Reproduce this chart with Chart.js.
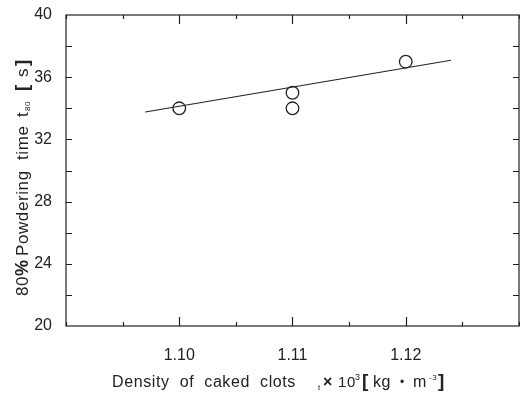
<!DOCTYPE html>
<html>
<head>
<meta charset="utf-8">
<script src="https://cdn.jsdelivr.net/npm/chart.js@4.4.0/dist/chart.umd.min.js"></script>
<style>
  html, body { margin: 0; padding: 0; background: #fff; overflow: hidden; }
  #wrap { width: 520px; height: 395px; position: relative; }
</style>
</head>
<body>
<div id="wrap"><canvas id="chart"></canvas></div>
<script>
// measured points
const densityX = [1.10, 1.11, 1.11, 1.12];
const powderTime = [34, 35, 34, 37];

// fitted line end points
const fitX = [1.097, 1.124];
const fitY = [33.76, 37.09];

const xMajorTicks = [1.10, 1.11, 1.12];
const yMajorTicks = [20, 24, 28, 32, 36, 40];

const INK = '#222';
const FONT = '"Liberation Sans", Arial, sans-serif';

// pieces of a title placed at offsets along its baseline
function drawPieces(ctx, pieces, x0, y0) {
  pieces.forEach(p => {
    ctx.font = (p.bold ? 'bold ' : '') + p.size + 'px ' + FONT;
    ctx.fillText(p.t, x0 + p.at, y0 + (p.dy || 0));
  });
}

const framePlugin = {
  id: 'frame',
  afterDraw(chart) {
    const ctx = chart.ctx;
    const a = chart.chartArea;
    const xs = chart.scales.x, ys = chart.scales.y;
    ctx.save();
    ctx.strokeStyle = INK;
    ctx.lineWidth = 1.2;
    ctx.strokeRect(a.left, a.top, a.right - a.left, a.bottom - a.top);

    ctx.beginPath();
    // x ticks, top and bottom, pointing inward
    for (let v = 1.09; v <= 1.1301; v += 0.005) {
      const px = Math.round(xs.getPixelForValue(v)) + 0.5;
      const major = xMajorTicks.some(m => Math.abs(m - v) < 1e-6);
      const len = major ? 9 : 4;
      ctx.moveTo(px, a.bottom); ctx.lineTo(px, a.bottom - len);
      ctx.moveTo(px, a.top); ctx.lineTo(px, a.top + len);
    }
    // y ticks, left and right
    for (let v = 22; v < 40; v += 2) {
      const py = Math.round(ys.getPixelForValue(v)) + 0.5;
      ctx.moveTo(a.left, py); ctx.lineTo(a.left + 6, py);
      ctx.moveTo(a.right, py); ctx.lineTo(a.right - 6, py);
    }
    ctx.stroke();

    ctx.fillStyle = INK;
    ctx.textBaseline = 'alphabetic';

    // x axis title
    ctx.letterSpacing = '0.6px';
    drawPieces(ctx, [
      { t: 'Density  of  caked  clots', size: 16, at: 0 },
      { t: 't', size: 8, at: 206, dy: 3 },
      { t: '\u00d7', size: 16, bold: true, at: 211 },
      { t: '10', size: 15, at: 226 },
      { t: '3', size: 9, at: 243, dy: -7 },
      { t: '[', size: 19, bold: true, at: 250 },
      { t: 'kg', size: 16, at: 261 },
      { t: '\u2022', size: 12, at: 288, dy: -1 },
      { t: 'm', size: 16, at: 301 },
      { t: '-3', size: 8, at: 317, dy: -7 },
      { t: ']', size: 19, bold: true, at: 326 }
    ], 112, 387);

    // y axis title (rotated, reads bottom to top)
    ctx.translate(28, 296);
    ctx.rotate(-Math.PI / 2);
    drawPieces(ctx, [
      { t: '80', size: 17, at: 0 },
      { t: '%', size: 18, bold: true, at: 20 },
      { t: 'Powdering', size: 17, at: 40 },
      { t: 'time', size: 17, at: 136 },
      { t: 't', size: 17, at: 179 },
      { t: '80', size: 8, at: 185, dy: 2 },
      { t: '[', size: 19, bold: true, at: 205 },
      { t: 's', size: 17, at: 219 },
      { t: ']', size: 19, bold: true, at: 230 }
    ], 0, 0);
    ctx.restore();
  }
};

new Chart(document.getElementById('chart'), {
  type: 'scatter',
  data: {
    datasets: [
      {
        label: 'measured',
        data: densityX.map((x, i) => ({ x: x, y: powderTime[i] })),
        pointStyle: 'circle',
        pointRadius: 6.3,
        pointHoverRadius: 6.3,
        borderColor: INK,
        backgroundColor: 'rgba(0,0,0,0)',
        borderWidth: 1.3
      },
      {
        label: 'fit',
        type: 'line',
        data: fitX.map((x, i) => ({ x: x, y: fitY[i] })),
        borderColor: INK,
        borderWidth: 1.2,
        pointRadius: 0,
        fill: false
      }
    ]
  },
  options: {
    responsive: true,
    maintainAspectRatio: false,
    animation: false,
    layout: { autoPadding: false, padding: { left: 0, right: 1, top: 15, bottom: 0 } },
    plugins: {
      legend: { display: false },
      tooltip: { enabled: false }
    },
    scales: {
      x: {
        type: 'linear',
        min: 1.09,
        max: 1.13,
        grid: { display: false },
        border: { display: false },
        afterFit(scale) {
          scale.height = 69;
          scale.paddingLeft = 0;
          scale.paddingRight = 0;
        },
        afterBuildTicks(scale) {
          scale.ticks = xMajorTicks.map(v => ({ value: v }));
        },
        ticks: {
          padding: 12,
          color: INK,
          font: { family: FONT, size: 16 },
          callback: v => v.toFixed(2)
        }
      },
      y: {
        min: 20,
        max: 40,
        grid: { display: false },
        border: { display: false },
        afterFit(scale) {
          scale.width = 66;
          scale.paddingTop = 0;
          scale.paddingBottom = 0;
        },
        afterBuildTicks(scale) {
          scale.ticks = yMajorTicks.map(v => ({ value: v }));
        },
        ticks: {
          padding: 6,
          color: INK,
          font: { family: FONT, size: 16 }
        }
      }
    }
  },
  plugins: [framePlugin]
});
</script>
</body>
</html>
